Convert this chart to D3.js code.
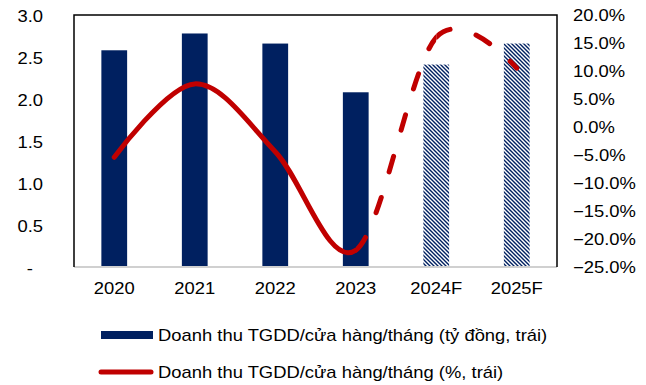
<!DOCTYPE html>
<html>
<head>
<meta charset="utf-8">
<script src="https://cdn.jsdelivr.net/npm/d3@7"></script>
<style>
  body { margin: 0; background: #fff; }
  svg { display: block; }
  text { font-family: "Liberation Sans", Arial, sans-serif; fill: #000; }
</style>
</head>
<body>
<svg id="chart" width="646" height="385"></svg>
<script>
// Revenue per store per month (billion VND) and its growth (%)
const categories = ["2020", "2021", "2022", "2023", "2024F", "2025F"];
const revenue = [2.58, 2.78, 2.66, 2.08, 2.41, 2.66];
const growth = [-5.4, 7.7, -4.4, -22.0, 16.0, 10.5];
const isForecast = [false, false, false, false, true, true];
const leftTicks = [0, 0.5, 1.0, 1.5, 2.0, 2.5, 3.0];
const rightTicks = [20, 15, 10, 5, 0, -5, -10, -15, -20, -25];
const legendLabels = [
  "Doanh thu TGDD/cửa hàng/tháng (tỷ đồng, trái)",
  "Doanh thu TGDD/cửa hàng/tháng (%, trái)"
];

const NAVY = "#002060";
const RED = "#C00000";
const SX = 1.15;            // horizontal stretch applied to labels
const FONT = 16;

const svg = d3.select("#chart");
const plot = { left: 74, right: 557, top: 15, bottom: 267 };

const x = d3.scaleBand().domain(categories).range([plot.left, plot.right]);
const yL = d3.scaleLinear().domain([0, 3]).range([plot.bottom, plot.top]);
const yR = d3.scaleLinear().domain([-25, 20]).range([plot.bottom, plot.top]);

// widen a text element about its own anchor point
function stretch(sel) {
  sel.each(function () {
    const t = d3.select(this);
    const ax = +t.attr("x") || 0;
    t.attr("transform", `translate(${ax},0) scale(${SX},1) translate(${-ax},0)`);
  });
}

// hatch for forecast bars
const defs = svg.append("defs");
const pat = defs.append("pattern")
  .attr("id", "hatch").attr("patternUnits", "userSpaceOnUse")
  .attr("width", 4).attr("height", 4);
pat.append("rect").attr("width", 4).attr("height", 4).attr("fill", "#fff");
pat.append("path").attr("d", "M-1,-1 L5,5 M3,-1 L5,1 M-1,3 L1,5")
  .attr("stroke", NAVY).attr("stroke-width", 1.4);

// bars
const barW = x.bandwidth() * 0.32;
svg.append("g").selectAll("rect")
  .data(categories)
  .join("rect")
  .attr("x", (d) => x(d) + (x.bandwidth() - barW) / 2)
  .attr("y", (d, i) => yL(revenue[i]))
  .attr("width", barW)
  .attr("height", (d, i) => yL(0) - yL(revenue[i]))
  .attr("fill", (d, i) => isForecast[i] ? "url(#hatch)" : NAVY);

// frame: dark left/top/right, light baseline
svg.append("line").attr("x1", plot.left).attr("x2", plot.right)
  .attr("y1", plot.bottom).attr("y2", plot.bottom)
  .attr("stroke", "#d0d0d0").attr("stroke-width", 2);
svg.append("path")
  .attr("d", `M${plot.left},${plot.bottom} V${plot.top} H${plot.right} V${plot.bottom}`)
  .attr("fill", "none").attr("stroke", "#000").attr("stroke-width", 1.5);

// growth line: smooth curve, solid for actuals, dashed for forecast segments
const pts = categories.map((c, i) => [x(c) + x.bandwidth() / 2, yR(growth[i])]);
const lineGen = d3.line().curve(d3.curveCardinal.tension(0));
const dPath = lineGen(pts);
const lastActual = isForecast.indexOf(true) - 1;

const solid = svg.append("path").attr("d", dPath)
  .attr("fill", "none").attr("stroke", RED).attr("stroke-width", 5)
  .attr("stroke-linecap", "round").attr("stroke-linejoin", "round");
const node = solid.node();
const total = node.getTotalLength();

// arc length along the curve where it reaches a given x
function lengthAtX(px) {
  let lo = 0, hi = total;
  for (let k = 0; k < 40; k++) {
    const mid = (lo + hi) / 2;
    if (node.getPointAtLength(mid).x < px) lo = mid; else hi = mid;
  }
  return lo;
}
const pointLen = pts.map((p) => lengthAtX(p[0]));
solid.attr("stroke-dasharray", `${pointLen[lastActual]} ${total}`);

// each forecast segment restarts its dash pattern at its first point
for (let k = lastActual; k < pts.length - 1; k++) {
  const id = `seg${k}`;
  defs.append("clipPath").attr("id", id)
    .append("rect").attr("x", pts[k][0]).attr("y", 0)
    .attr("width", pts[k + 1][0] - pts[k][0] + (k === pts.length - 2 ? 10 : 0))
    .attr("height", 385);
  svg.append("path").attr("d", dPath)
    .attr("clip-path", `url(#${id})`)
    .attr("fill", "none").attr("stroke", RED).attr("stroke-width", 5)
    .attr("stroke-linecap", "round")
    .attr("stroke-dasharray", "16 27")
    .attr("stroke-dashoffset", -pointLen[k]);
}

// left axis
const gL = svg.append("g").attr("transform", `translate(${plot.left},0)`)
  .call(d3.axisLeft(yL).tickValues(leftTicks).tickSize(0).tickPadding(31)
    .tickFormat((d) => d === 0 ? "-" : d3.format(".1f")(d)));
gL.select(".domain").remove();
gL.selectAll("text").attr("font-size", FONT).attr("dy", "0.42em")
  .attr("font-family", null).attr("fill", "#000")
  .filter((d) => d === 0).attr("x", -41);
stretch(gL.selectAll("text"));

// right axis
const gR = svg.append("g").attr("transform", `translate(${plot.right},0)`)
  .call(d3.axisRight(yR).tickValues(rightTicks).tickSize(0).tickPadding(16)
    .tickFormat((d) => d3.format(".1f")(d) + "%"));
gR.select(".domain").remove();
gR.selectAll("text").attr("font-size", FONT).attr("dy", "0.36em")
  .attr("font-family", null).attr("fill", "#000");
stretch(gR.selectAll("text"));

// category axis
const gX = svg.append("g").attr("transform", `translate(0,${plot.bottom})`)
  .call(d3.axisBottom(x).tickSize(0).tickPadding(16));
gX.select(".domain").remove();
gX.selectAll("text").attr("font-size", FONT).attr("dy", "0.71em")
  .attr("font-family", null).attr("fill", "#000");
stretch(gX.selectAll("text"));

// legend
const leg = svg.append("g");
leg.append("rect").attr("x", 101).attr("y", 331).attr("width", 52).attr("height", 8)
  .attr("fill", NAVY);
leg.append("line").attr("x1", 101).attr("x2", 151).attr("y1", 372).attr("y2", 372)
  .attr("stroke", RED).attr("stroke-width", 5).attr("stroke-linecap", "round");
leg.selectAll("text.lbl").data(legendLabels).join("text")
  .attr("class", "lbl")
  .attr("x", 158).attr("y", (d, i) => [335, 372][i]).attr("dy", "0.36em")
  .attr("font-size", FONT)
  .text((d) => d)
  .call(stretch);
</script>
</body>
</html>
